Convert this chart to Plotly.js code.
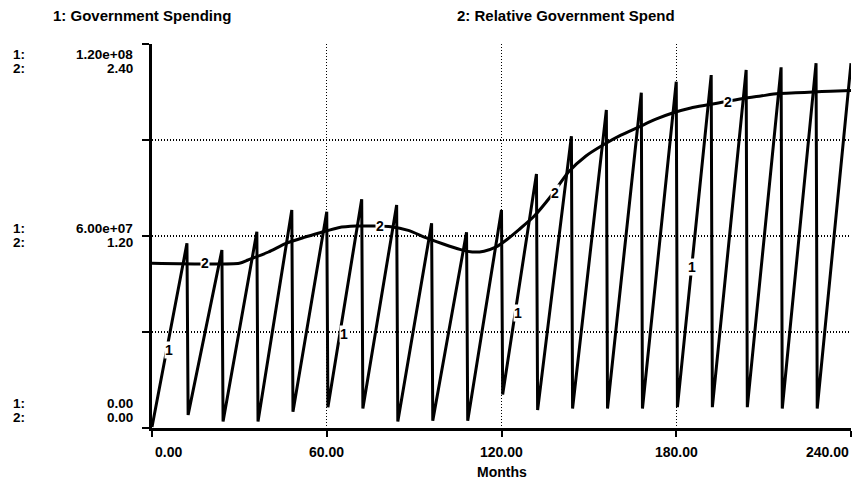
<!DOCTYPE html>
<html>
<head>
<meta charset="utf-8">
<script src="https://cdn.plot.ly/plotly-3.0.1.min.js"></script>
<style>html,body{margin:0;padding:0;background:#fff;}#chart{width:853px;height:485px;}</style>
</head>
<body>
<div id="chart"></div>
<script>
// Series 1: Government Spending (sawtooth, resets each year)
var spendMonths = [0, 12, 12.4, 24, 24.4, 36, 36.4, 48, 48.4, 60, 60.4, 72, 72.4, 84, 84.4, 96, 96.4, 108, 108.4, 120, 120.4,
                   132, 132.4, 144, 144.4, 156, 156.4, 168, 168.4, 180, 180.4, 192, 192.4, 204, 204.4, 216, 216.4, 228, 228.4, 240];
var spendValues = [0.3e6, 57.7e6, 4.1e6, 55.6e6, 2.0e6, 61.3e6, 2.0e6, 68.1e6, 5.1e6, 67.6e6, 6.5e6, 71.5e6, 6.1e6, 69.7e6, 2.0e6,
                   64.0e6, 2.3e6, 61.2e6, 2.3e6, 68.1e6, 10.5e6, 79.4e6, 5.6e6, 91.2e6, 6.1e6, 99.4e6, 6.1e6, 104.8e6, 6.1e6,
                   108.2e6, 6.5e6, 110.3e6, 6.5e6, 111.9e6, 6.5e6, 112.7e6, 6.1e6, 114.0e6, 6.1e6, 114.0e6];
// Series 2: Relative Government Spend
var relMonths = [0, 30, 33, 40, 46, 52, 58, 64, 70, 76, 82, 88, 94, 100, 106, 110, 114, 118, 122, 126, 131, 137, 143, 149,
                 155, 161, 167, 173, 179, 185, 191, 197, 203, 209, 215, 221, 227, 233, 240];
var relValues = [1.03, 1.03, 1.05, 1.10, 1.154, 1.19, 1.222, 1.252, 1.262, 1.262, 1.258, 1.235, 1.19, 1.15, 1.115, 1.10, 1.105,
                 1.13, 1.18, 1.24, 1.32, 1.45, 1.60, 1.70, 1.77, 1.83, 1.88, 1.93, 1.97, 2.00, 2.02, 2.04, 2.06, 2.075, 2.09,
                 2.095, 2.10, 2.105, 2.11];

var xTicks = [0, 60, 120, 180, 240];
var xTickLabels = ["0.00", "60.00", "120.00", "180.00", "240.00"];
var yTicks = [0, 30e6, 60e6, 90e6, 120e6];
var yLabelTicks = [0, 60e6, 120e6];
var y1Labels = ["0.00", "6.00e+07", "1.20e+08"];
var y2Labels = ["0.00", "1.20", "2.40"];
var series1Name = "1: Government Spending";
var series2Name = "2: Relative Government Spend";
var xTitle = "Months";
// positions of the inline series markers "1" and "2"
var label1Months = [5.8, 65.8, 125.8, 185.5];
var label1Values = [24.4e6, 29.4e6, 36.0e6, 50.3e6];
var label2Months = [18.2, 78.2, 138.2, 197.8];
var label2Values = [1.03, 1.262, 1.47, 2.04];

var FONT = "Liberation Sans, Arial, sans-serif";
var txt = {family: FONT, size: 14, color: "#000", weight: "bold"};
var headTxt = {family: FONT, size: 15, color: "#000", weight: "bold"};
var tickTxt = {family: FONT, size: 13.5, color: "#000", weight: "bold"};

var traces = [
  {x: spendMonths, y: spendValues, type: "scatter", mode: "lines", line: {color: "#000", width: 3}, xaxis: "x", yaxis: "y", hoverinfo: "skip"},
  {x: relMonths, y: relValues, type: "scatter", mode: "lines", line: {color: "#000", width: 3, shape: "spline", smoothing: 0.6}, xaxis: "x", yaxis: "y2", hoverinfo: "skip"}
];

var L = 152, R = 851, W = 853;
var pw = R - L;
function px(p) { return (p - L) / pw; }

var ann = [];
// header titles
ann.push({xref: "paper", yref: "paper", x: px(51), y: 1, yshift: 29, xanchor: "left", yanchor: "middle", text: series1Name, showarrow: false, font: headTxt});
ann.push({xref: "paper", yref: "paper", x: px(455), y: 1, yshift: 29, xanchor: "left", yanchor: "middle", text: series2Name, showarrow: false, font: headTxt});
// x tick labels
for (var i = 0; i < xTicks.length; i++) {
  var xa = i === 0 ? "left" : (i === xTicks.length - 1 ? "right" : "center");
  ann.push({xref: "x", yref: "paper", x: xTicks[i], y: 0, yshift: -24, xshift: i === 0 ? 1 : 0, xanchor: xa, yanchor: "middle", text: xTickLabels[i], showarrow: false, font: txt});
}
ann.push({xref: "paper", yref: "paper", x: px(502), y: 0, yshift: -44, xanchor: "center", yanchor: "middle", text: xTitle, showarrow: false, font: txt});
// y tick labels (two stacked scales)
var shifts = [[25, 11], [8, -6], [-10, -24]];
for (var j = 0; j < yLabelTicks.length; j++) {
  var s = shifts[j];
  ann.push({xref: "paper", yref: "y", x: px(11), y: yLabelTicks[j], yshift: s[0], xanchor: "left", yanchor: "middle", text: "1:", showarrow: false, font: tickTxt});
  ann.push({xref: "paper", yref: "y", x: px(11), y: yLabelTicks[j], yshift: s[1], xanchor: "left", yanchor: "middle", text: "2:", showarrow: false, font: tickTxt});
  ann.push({xref: "paper", yref: "y", x: px(135), y: yLabelTicks[j], yshift: s[0], xanchor: "right", yanchor: "middle", text: y1Labels[j], showarrow: false, font: tickTxt});
  ann.push({xref: "paper", yref: "y", x: px(135), y: yLabelTicks[j], yshift: s[1], xanchor: "right", yanchor: "middle", text: y2Labels[j], showarrow: false, font: tickTxt});
}
// inline markers
for (var k = 0; k < label1Months.length; k++) {
  ann.push({xref: "x", yref: "y", x: label1Months[k], y: label1Values[k], text: "1", showarrow: false, font: txt, bgcolor: "#fff", borderpad: 0});
}
for (var m = 0; m < label2Months.length; m++) {
  ann.push({xref: "x", yref: "y2", x: label2Months[m], y: label2Values[m], text: "2", showarrow: false, font: txt, bgcolor: "#fff", borderpad: 0});
}

var layout = {
  width: 853, height: 485,
  margin: {l: L, r: W - R, t: 44, b: 57, pad: 0},
  paper_bgcolor: "#fff", plot_bgcolor: "#fff",
  showlegend: false,
  xaxis: {range: [0, 240], tickvals: xTicks, showticklabels: false, ticks: "outside", ticklen: 6, tickwidth: 2, tickcolor: "#000",
          showline: true, linewidth: 3, linecolor: "#000", showgrid: true, gridcolor: "#000", gridwidth: 1.2, griddash: "1px,2px", zeroline: false, fixedrange: true},
  yaxis: {range: [0, 120e6], tickvals: yTicks, showticklabels: false, ticks: "outside", ticklen: 7, tickwidth: 2, tickcolor: "#000",
          showline: true, linewidth: 3, linecolor: "#000", showgrid: true, gridcolor: "#000", gridwidth: 1.2, griddash: "1px,2px", zeroline: false, fixedrange: true},
  yaxis2: {range: [0, 2.4], overlaying: "y", visible: false, fixedrange: true},
  annotations: ann
};

Plotly.newPlot("chart", traces, layout, {displayModeBar: false, staticPlot: true});
</script>
</body>
</html>
